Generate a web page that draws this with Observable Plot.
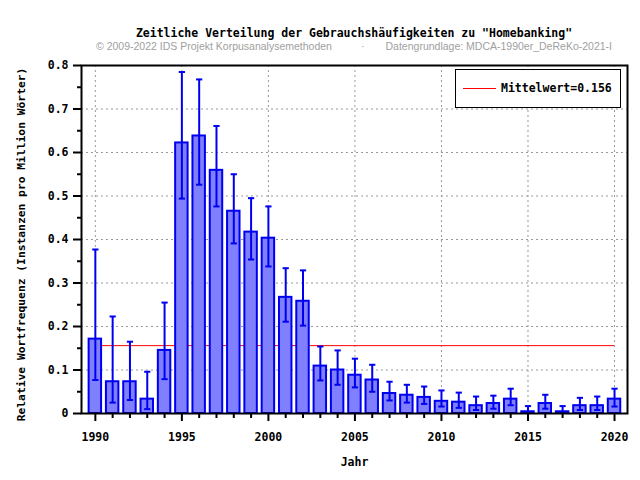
<!DOCTYPE html>
<html><head><meta charset="utf-8">
<script src="https://cdn.jsdelivr.net/npm/d3@7"></script>
<script src="https://cdn.jsdelivr.net/npm/@observablehq/plot@0.6"></script>
<style>
body{margin:0;background:#fff;}
#wrap{position:relative;width:640px;height:480px;overflow:hidden;}
#head{position:relative;width:640px;height:56px;}
.title{position:absolute;left:81px;width:546px;top:26px;text-align:center;font:bold 11.5px "DejaVu Sans Mono",monospace;line-height:14px;white-space:pre;color:#000;}
.sub{position:absolute;top:40px;font:10.5px "Liberation Sans",Arial,sans-serif;color:#a0a0a0;line-height:12px;white-space:pre;}
#legend{position:absolute;left:455px;top:69px;width:166px;height:39px;border:1px solid #000;background:#fff;box-sizing:border-box;}
#legend .ln{position:absolute;left:7px;top:18px;width:33px;height:1px;background:red;}
#legend .tx{position:absolute;left:45px;top:11px;font:bold 11.5px "DejaVu Sans Mono",monospace;line-height:14px;white-space:pre;}
svg{display:block;}
</style>
</head><body>
<div id="wrap">
  <div id="head">
    <div class="title" id="title"></div>
    <div class="sub" id="subL" style="left:96px"></div>
    <div class="sub" id="subM" style="left:361px"></div>
    <div class="sub" id="subR" style="right:28px"></div>
  </div>
  <div id="chart"></div>
  <div id="legend"><div class="ln"></div><div class="tx" id="legtext"></div></div>
</div>
<script>
const titleText = "Zeitliche Verteilung der Gebrauchshäufigkeiten zu \"Homebanking\"";
const subtitleLeft = "© 2009-2022 IDS Projekt Korpusanalysemethoden";
const subtitleMid = "·";
const subtitleRight = "Datengrundlage: MDCA-1990er_DeReKo-2021-I";
const yLabel = "Relative Wortfrequenz (Instanzen pro Million Wörter)";
const xLabel = "Jahr";
const meanValue = 0.156;
const legendLabel = "Mittelwert=" + meanValue;

const years = [1990,1991,1992,1993,1994,1995,1996,1997,1998,1999,2000,2001,2002,2003,2004,2005,2006,2007,2008,2009,2010,2011,2012,2013,2014,2015,2016,2017,2018,2019,2020];
const values = [0.171,0.073,0.073,0.033,0.145,0.622,0.638,0.559,0.465,0.417,0.403,0.267,0.258,0.109,0.100,0.088,0.077,0.046,0.042,0.037,0.028,0.026,0.018,0.023,0.033,0.004,0.023,0.004,0.018,0.018,0.033];
const upper = [0.377,0.223,0.165,0.096,0.255,0.785,0.768,0.661,0.550,0.495,0.476,0.334,0.329,0.154,0.145,0.126,0.112,0.073,0.066,0.062,0.053,0.048,0.039,0.041,0.057,0.017,0.043,0.017,0.036,0.039,0.057];
const lower = [0.077,0.025,0.031,0.010,0.079,0.494,0.526,0.476,0.391,0.354,0.338,0.211,0.202,0.076,0.066,0.060,0.050,0.030,0.025,0.022,0.016,0.013,0.008,0.011,0.019,0.002,0.011,0.002,0.008,0.008,0.016];

const yMajorTicks = [0,0.1,0.2,0.3,0.4,0.5,0.6,0.7,0.8];
const yMinorTicks = [0.05,0.15,0.25,0.35,0.45,0.55,0.65,0.75];
const xMajorTicks = [1990,1995,2000,2005,2010,2015,2020];
const xMinorTicks = years.filter(y => y % 5 !== 0);

document.getElementById("title").textContent = titleText;
document.getElementById("subL").textContent = subtitleLeft;
document.getElementById("subM").textContent = subtitleMid;
document.getElementById("subR").textContent = subtitleRight;
document.getElementById("legtext").textContent = legendLabel;

const data = years.map((year, i) => ({year, value: values[i], lo: lower[i], hi: upper[i]}));
const blue = "#0000f0";
const half = 0.36, cap = 0.18;

const chart = Plot.plot({
  width: 640, height: 424,
  marginLeft: 81, marginRight: 13, marginTop: 9, marginBottom: 67,
  style: {fontFamily: "'DejaVu Sans Mono', monospace", fontWeight: "bold", fontSize: "11.5px", background: "white", color: "black"},
  x: {domain: [1989.2, 2020.75]},
  y: {domain: [0, 0.8]},
  marks: [
    Plot.gridY(yMajorTicks.slice(1, -1), {stroke: "#999", strokeOpacity: 1, strokeDasharray: "2,3"}),
    Plot.gridX(xMajorTicks, {stroke: "#999", strokeOpacity: 1, strokeDasharray: "2,3"}),
    Plot.ruleY([meanValue], {x1: years[0], x2: years[years.length - 1], stroke: "red", strokeWidth: 1}),
    Plot.rect(data, {x1: d => d.year - half, x2: d => d.year + half, y1: 0, y2: "value", fill: "#8080ff", stroke: blue, strokeWidth: 2}),
    Plot.ruleX(data, {x: "year", y1: "lo", y2: "hi", stroke: blue, strokeWidth: 2}),
    Plot.link(data, {x1: d => d.year - cap, x2: d => d.year + cap, y1: "hi", y2: "hi", stroke: blue, strokeWidth: 2}),
    Plot.link(data, {x1: d => d.year - cap, x2: d => d.year + cap, y1: "lo", y2: "lo", stroke: blue, strokeWidth: 2}),
    Plot.frame({stroke: "black", strokeWidth: 2}),
    Plot.axisY(yMajorTicks, {tickSize: 8, tickPadding: 5, strokeWidth: 2, tickFormat: d => d === 0 ? "0" : d.toFixed(1), label: null}),
    Plot.axisY(yMinorTicks, {tickSize: 4, strokeWidth: 2, tickFormat: () => "", label: null}),
    Plot.axisX(xMajorTicks, {tickSize: 8, tickPadding: 11, strokeWidth: 2, tickFormat: d => String(d), label: null}),
    Plot.axisX(xMinorTicks, {tickSize: 5, strokeWidth: 2, tickFormat: () => "", label: null}),
    Plot.text([yLabel], {frameAnchor: "left", dx: -60, dy: 5, rotate: -90, textAnchor: "middle", text: d => d, fontWeight: "bold", fontSize: 11.3}),
    Plot.text([xLabel], {frameAnchor: "bottom", dy: 52, text: d => d, fontWeight: "bold", fontSize: 11.5})
  ]
});
document.getElementById("chart").appendChild(chart);
</script>
</body></html>
